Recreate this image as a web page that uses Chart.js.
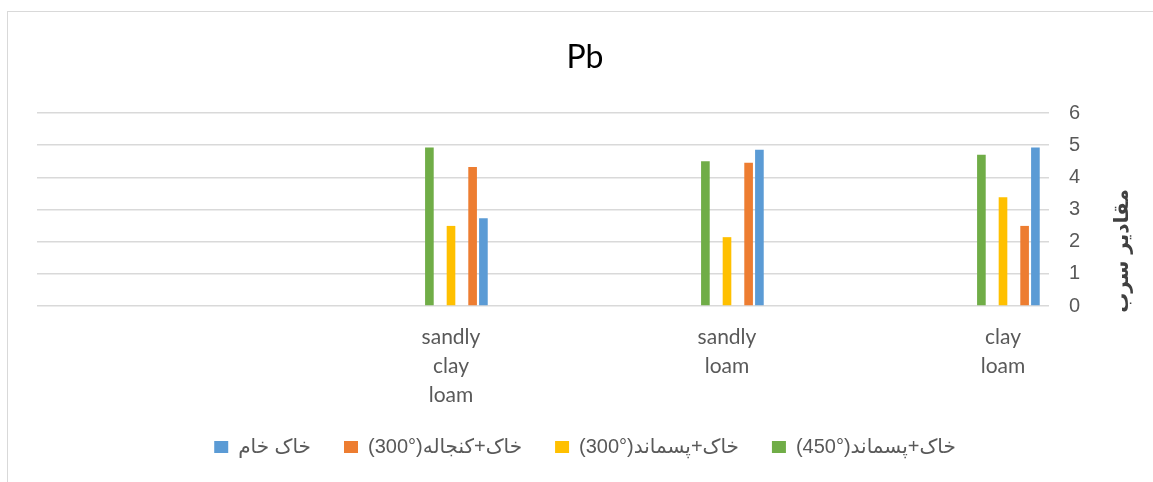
<!DOCTYPE html>
<html><head><meta charset="utf-8">
<script src="https://cdn.jsdelivr.net/npm/chart.js@4"></script>
<style>
html,body{margin:0;padding:0;background:#fff;}
#wrap{position:relative;width:1153px;height:482px;}
#frame{position:absolute;left:7px;top:11px;right:0;bottom:0;border-left:1px solid #d9d9d9;border-top:1px solid #d9d9d9;pointer-events:none;}
</style></head><body>
<div id="wrap"><canvas id="c" width="1153" height="482"></canvas><div id="frame"></div></div>
<script>
const chartTitle = 'Pb';
const yAxisTitle = 'مقادیر سرب';
const categories = [['clay', 'loam'], ['sandly', 'loam'], ['sandly', 'clay', 'loam']];
const categoryPos = [3, 2, 1];
const seriesNames = ['خاک خام', 'خاک+کنجاله(\u2066300°\u2069)', 'خاک+پسماند(\u2066300°\u2069)', 'خاک+پسماند(\u2066450°\u2069)'];
const seriesColors = ['#5b9bd5', '#ed7d31', '#ffc000', '#70ad47'];
const rawSoil = [4.93, 4.86, 2.73];
const soilMeal300 = [2.49, 4.45, 4.32];
const soilResidue300 = [3.38, 2.14, 2.49];
const soilResidue450 = [4.70, 4.50, 4.93];
const yTicks = [0, 1, 2, 3, 4, 5, 6];

const toPoints = vals => vals.map((v, i) => ({x: categoryPos[i], y: v}));
const spacer = () => ({label: '', data: [], backgroundColor: 'rgba(0,0,0,0)'});
const series = (idx, vals) => ({label: seriesNames[idx], data: toPoints(vals), backgroundColor: seriesColors[idx], borderWidth: 0});

const yTitlePlugin = {
  id: 'yTitle',
  afterDraw(chart) {
    const {ctx, chartArea} = chart;
    ctx.save();
    ctx.translate(chartArea.right + 74, 251);
    ctx.rotate(-Math.PI / 2);
    ctx.font = 'bold 20px "DejaVu Sans", sans-serif';
    ctx.fillStyle = '#404040';
    ctx.textAlign = 'center';
    ctx.textBaseline = 'middle';
    ctx.direction = 'rtl';
    ctx.fillText(yAxisTitle, 0, 0);
    ctx.restore();
  }
};

new Chart(document.getElementById('c'), {
  type: 'bar',
  data: {
    datasets: [
      spacer(),
      series(3, soilResidue450),
      spacer(),
      series(2, soilResidue300),
      spacer(),
      series(1, soilMeal300),
      series(0, rawSoil)
    ]
  },
  options: {
    responsive: false,
    animation: false,
    devicePixelRatio: 1,
    categoryPercentage: 0.274,
    barPercentage: 0.8,
    layout: {padding: {left: 37, right: 20, top: 0, bottom: 15}},
    plugins: {
      tooltip: {enabled: false},
      title: {
        display: true,
        text: chartTitle,
        color: '#000',
        font: {family: 'Lato, "Liberation Sans", sans-serif', size: 32, weight: 'normal', lineHeight: 1.2},
        padding: {top: 38, bottom: 36.6}
      },
      legend: {
        position: 'bottom',
        reverse: true,
        textDirection: 'rtl',
        labels: {
          filter: item => item.text !== '',
          boxWidth: 14,
          boxHeight: 12,
          padding: 33,
          color: '#595959',
          font: {family: '"Liberation Sans", "DejaVu Sans", sans-serif', size: 20}
        }
      }
    },
    scales: {
      x: {
        type: 'linear',
        min: -0.5,
        max: 3 + 1 / 6,
        offset: false,
        grid: {display: false},
        border: {display: false},
        afterBuildTicks: s => { s.ticks = categoryPos.map(v => ({value: v})); },
        afterFit: s => { s.height = 98; },
        ticks: {
          autoSkip: false,
          maxRotation: 0,
          padding: 9,
          color: '#595959',
          font: {family: 'Lato, "Liberation Sans", sans-serif', size: 21, lineHeight: 1.38},
          callback: v => categories[categoryPos.indexOf(v)]
        }
      },
      y: {
        position: 'right',
        min: 0,
        max: 6,
        grid: {color: '#d9d9d9', lineWidth: 1.5, drawTicks: false},
        border: {display: false},
        afterBuildTicks: s => { s.ticks = yTicks.map(v => ({value: v})); },
        afterFit: s => { s.width = 84; },
        ticks: {
          padding: 20,
          color: '#595959',
          font: {family: '"Liberation Sans", sans-serif', size: 20}
        }
      }
    }
  },
  plugins: [yTitlePlugin]
});
</script>
</body></html>
